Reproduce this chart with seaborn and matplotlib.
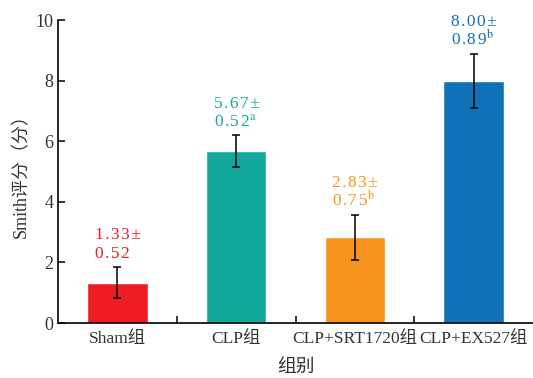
import numpy as np
import pandas as pd
import seaborn as sns
import matplotlib.pyplot as plt
from matplotlib.ticker import FixedLocator

# 数据
groups = ['Sham组', 'CLP组', 'CLP+SRT1720组', 'CLP+EX527组']
means = [1.33, 5.67, 2.83, 8.00]
sds = [0.52, 0.52, 0.75, 0.89]
marks = ['', 'a', 'b', 'b']
colors = ['#EE1D23', '#12A89D', '#F7941D', '#1172BA']

sns.set_style('ticks')
plt.rcParams['font.family'] = ['Liberation Serif', 'DejaVu Serif', 'Noto Sans CJK SC']
plt.rcParams['mathtext.fontset'] = 'stix'

df = pd.DataFrame({'group': groups, 'score': means})

fig = plt.figure(figsize=(5.33, 3.78), dpi=100)
ax = fig.add_axes([0.109, 0.1455, 0.891, 0.8015])

sns.barplot(data=df, x='group', y='score', hue='group', palette=colors,
            width=0.51, saturation=1, legend=False, ax=ax)

x = np.arange(len(groups))
ax.errorbar(x, means, yerr=sds, fmt='none', ecolor='black', elinewidth=1.1,
            capsize=3.2, capthick=1.1)


def spaced(s):
    return '\u200a'.join(s)


# 标注 均值±标准差
for i in range(len(groups)):
    top = means[i] + sds[i]
    line2 = spaced(f'{sds[i]:.2f}') + (rf'$^\mathrm{{{marks[i]}}}$' if marks[i] else '')
    ax.text(x[i] - 0.19, top + 0.78, spaced(f'{means[i]:.2f}±'), color=colors[i],
            fontsize=12.5, ha='left', va='bottom')
    ax.text(x[i] - 0.19, top + 0.15, line2, color=colors[i],
            fontsize=12.5, ha='left', va='bottom')

ax.set_xlim(-0.5, 3.5)
ax.set_ylim(0, 10)
ax.set_yticks([0, 2, 4, 6, 8, 10])
ax.xaxis.set_minor_locator(FixedLocator([0.5, 1.5, 2.5]))
ax.tick_params(axis='x', which='major', length=0, labelsize=12.5, colors='#333333', pad=6)
ax.tick_params(axis='x', which='minor', direction='in', length=5, width=1.1, color='black')
ax.tick_params(axis='y', direction='in', length=5, width=1.1, labelsize=13,
               labelcolor='#333333', color='black')
sns.despine(ax=ax)
for s in ['left', 'bottom']:
    ax.spines[s].set_linewidth(1.2)
    ax.spines[s].set_color('black')

ax.set_xlabel('组别', fontsize=13.5, color='#333333', labelpad=9)
ax.set_ylabel('Smith评分（分）', fontsize=13, color='#333333', labelpad=4)

fig.savefig('out.png', dpi=100)
